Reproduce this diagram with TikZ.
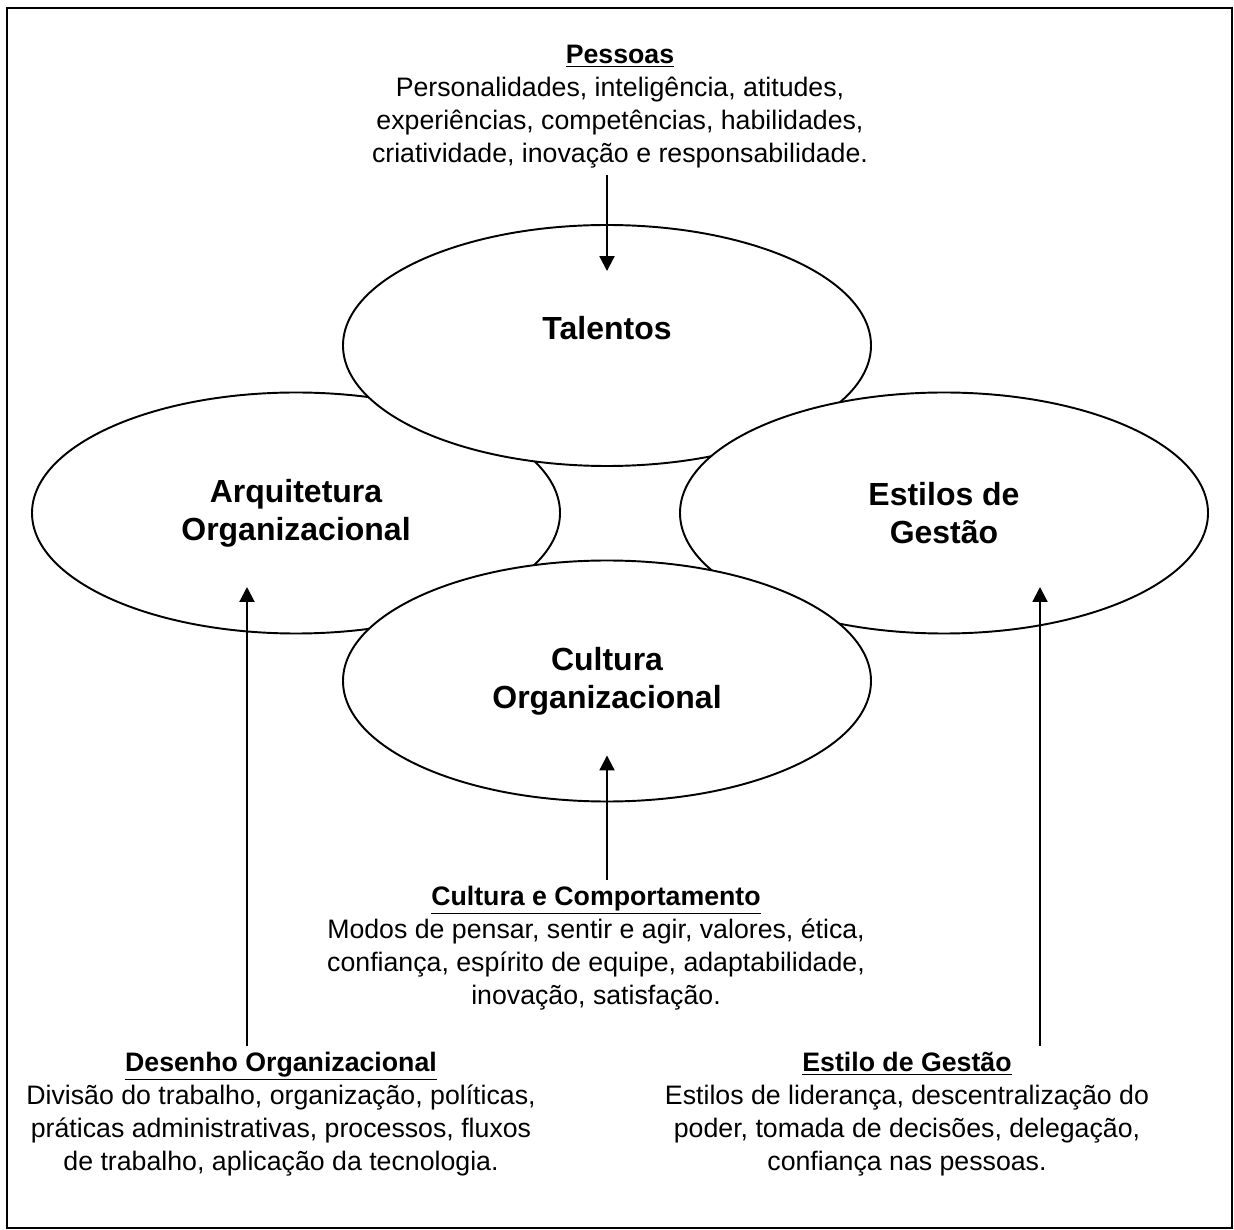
\documentclass[tikz,border=0pt]{standalone}
\usepackage{fontspec}
\setmainfont{Liberation Sans}
\usetikzlibrary{shapes.geometric,arrows.meta}

\begin{document}
\begin{tikzpicture}[
		lbl/.style={align=center, font=\fontsize{18.2}{21.6}\selectfont\bfseries},
		blob/.style={lbl, ellipse, draw, fill=white, line width=1.1pt, minimum width=10.56cm, minimum height=4.82cm, inner sep=0pt},
		txt/.style={align=center, font=\fontsize{15.2}{18.8}\selectfont},
		arr/.style={line width=1.2pt, -{Triangle[length=8.5pt,width=8.5pt]}}
	]
		\useasboundingbox (0,0) rectangle (24.68,24.58);
		\draw[line width=1.1pt] (0.14,0.02) rectangle (24.64,24.42);
		\node[blob] (arq) at (5.92,14.32) {Arquitetura\\Organizacional};
		\node[blob] (tal) at (12.14,17.67) {};
		\node[lbl] (talt) at ([yshift=0.34cm]tal.center) {Talentos};
		\node[blob] (est) at (18.88,14.32) {Estilos de\\Gestão};
		\node[blob] (cul) at (12.14,10.96) {Cultura\\Organizacional};
		\node[txt] (pes) at (12.4,22.44) {\underline{\textbf{Pessoas}}\\Personalidades, inteligência, atitudes,\\experiências, competências, habilidades,\\criatividade, inovação e responsabilidade.};
		\node[txt] (cc) at (11.92,5.62) {\underline{\textbf{Cultura e Comportamento}}\\Modos de pensar, sentir e agir, valores, ética,\\confiança, espírito de equipe, adaptabilidade,\\inovação, satisfação.};
		\node[txt] (des) at (5.62,2.3) {\underline{\textbf{Desenho Organizacional}}\\Divisão do trabalho, organização, políticas,\\práticas administrativas, processos, fluxos\\de trabalho, aplicação da tecnologia.};
		\node[txt] (eg) at (18.14,2.3) {\underline{\textbf{Estilo de Gestão}}\\Estilos de liderança, descentralização do\\poder, tomada de decisões, delegação,\\confiança nas pessoas.};
		\coordinate (talin) at ([yshift=-0.94cm]tal.north);
		\coordinate (culin) at ([yshift=0.94cm]cul.south);
		\coordinate (arqin) at (4.94,12.84);
		\coordinate (estin) at (20.8,12.84);
		\draw[arr] (pes.south -| talin) -- (talin);
		\draw[arr] (cc.north -| culin) -- (culin);
		\draw[arr] (des.north -| arqin) -- (arqin);
		\draw[arr] (eg.north -| estin) -- (estin);
	\end{tikzpicture}
\end{document}
